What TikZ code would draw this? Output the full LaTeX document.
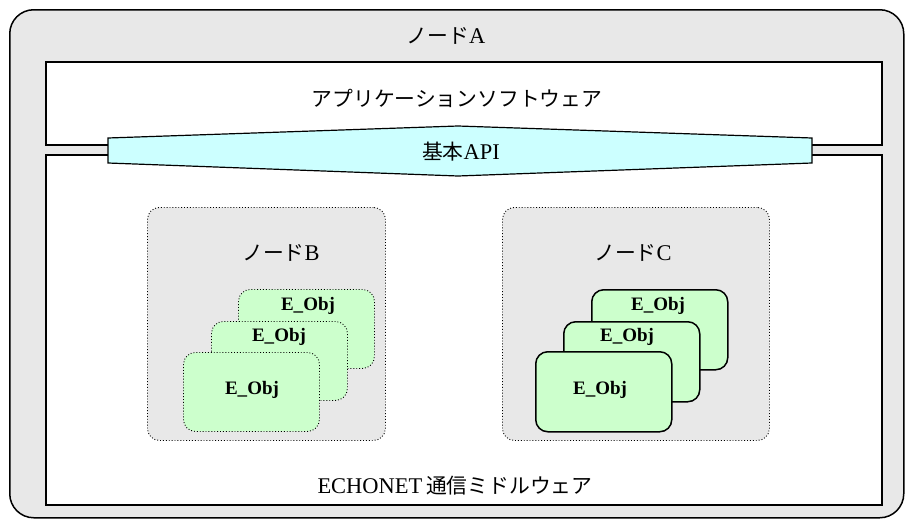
\documentclass[tikz,border=0pt]{standalone}
\usepackage{fontspec}
\setmainfont[Scale=1.08]{Liberation Serif}
\newfontfamily\jp{Noto Sans CJK JP}
\definecolor{bggray}{HTML}{E8E8E8}
\definecolor{objgreen}{HTML}{CCFFCC}
\definecolor{apicyan}{HTML}{CCFFFF}
\begin{document}
\begin{tikzpicture}[x=1pt,y=-1pt,
  box/.style={draw=black, line width=1.5pt, anchor=north west, inner sep=0pt},
  grp/.style={draw=black, dotted, line width=0.9pt, fill=bggray, rounded corners=12pt, anchor=north west, inner sep=0pt},
  objd/.style={draw=black, dotted, line width=0.9pt, fill=objgreen, rounded corners=12pt, anchor=north west, inner sep=0pt, minimum width=136pt, minimum height=79pt},
  objs/.style={draw=black, line width=1.5pt, fill=objgreen, rounded corners=12pt, anchor=north west, inner sep=0pt, minimum width=136pt, minimum height=80pt},
  lbl/.style={font=\fontsize{20.8}{23}\selectfont, inner sep=0pt},
  olbl/.style={font=\fontsize{17.6}{20}\selectfont\bfseries, inner sep=0pt}
]
\useasboundingbox (0,0) rectangle (910,522);
% outer node A
\node[box, fill=bggray, rounded corners=24pt, minimum width=894pt, minimum height=508pt] (nodeA) at (9,9) {};
\node[lbl] (labA) at (446,36) {{\jp ノード}A};
% application box
\node[box, fill=white, minimum width=836pt, minimum height=83pt] (app) at (45,61) {};
\node[lbl] (labApp) at (457,98) {\jp アプリケーションソフトウェア};
% middleware box
\node[box, fill=white, minimum width=836pt, minimum height=350pt] (mw) at (45,154) {};
\node[lbl] (labMw) at (455,486) {ECHONET\,{\jp 通信ミドルウェア}};
% API hexagon
\draw[line width=1.2pt, fill=apicyan, line join=miter] (108,138) -- (458,126) -- (812,138) -- (812,163) -- (458,176) -- (108,163) -- cycle;
\node[lbl] (labApi) at (461,152) {{\jp 基本}API};
% node B
\node[grp, minimum width=238pt, minimum height=233pt] (nodeB) at (147,207) {};
\node[lbl] (labB) at (281,253) {{\jp ノード}B};
\node[objd] (b3) at (238,289) {};
\node[objd] (b2) at (211,321) {};
\node[objd] (b1) at (183,352) {};
\node[olbl] (lb3) at (308,306) {E\_Obj};
\node[olbl] (lb2) at (279,337) {E\_Obj};
\node[olbl] (lb1) at (252,390) {E\_Obj};
% node C
\node[grp, minimum width=267pt, minimum height=233pt] (nodeC) at (502,207) {};
\node[lbl] (labC) at (633,253) {{\jp ノード}C};
\node[objs] (c3) at (591,289) {};
\node[objs] (c2) at (563,321) {};
\node[objs] (c1) at (535,351) {};
\node[olbl] (lc3) at (658,306) {E\_Obj};
\node[olbl] (lc2) at (627,337) {E\_Obj};
\node[olbl] (lc1) at (600,390) {E\_Obj};
\end{tikzpicture}
\end{document}
